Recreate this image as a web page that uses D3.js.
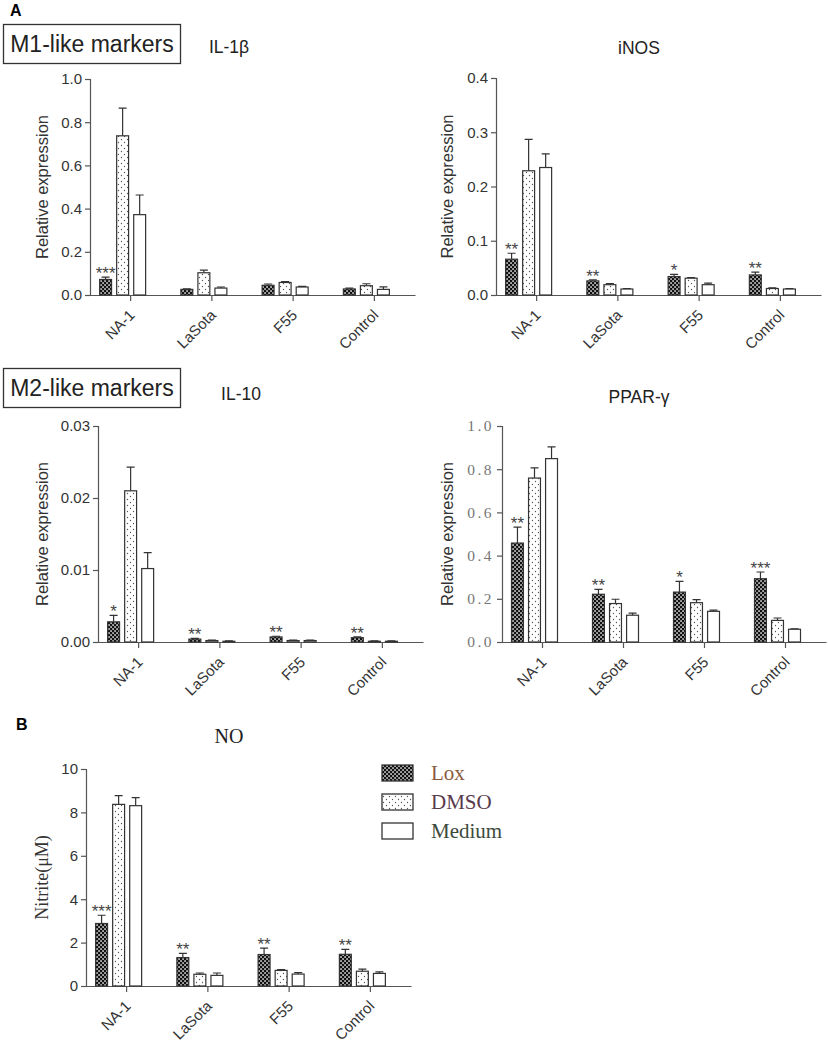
<!DOCTYPE html>
<html>
<head>
<meta charset="utf-8">
<script src="https://cdn.jsdelivr.net/npm/d3@7"></script>
<style>
  body { margin: 0; background: #fff; }
  svg { display: block; }
</style>
</head>
<body>
<script>
const groups = ["NA-1", "LaSota", "F55", "Control"];
const series = ["Lox", "DMSO", "Medium"];

// mean and SEM per group, in series order Lox, DMSO, Medium
const il1bMean = [[0.072, 0.737, 0.372], [0.026, 0.103, 0.032], [0.045, 0.058, 0.037], [0.028, 0.043, 0.026]];
const il1bSem  = [[0.011, 0.128, 0.091], [0.003, 0.012, 0.005], [0.006, 0.004, 0.003], [0.004, 0.009, 0.012]];
const il1bStars = ["***", "", "", ""];

const inosMean = [[0.066, 0.229, 0.235], [0.026, 0.019, 0.011], [0.034, 0.031, 0.019], [0.037, 0.012, 0.011]];
const inosSem  = [[0.011, 0.058, 0.025], [0.002, 0.002, 0.001], [0.004, 0.001, 0.003], [0.005, 0.001, 0.001]];
const inosStars = ["**", "**", "*", "**"];

const il10Mean = [[0.0028, 0.0210, 0.0102], [0.0004, 0.0002, 0.0001], [0.0007, 0.0002, 0.0002], [0.0006, 0.0001, 0.0001]];
const il10Sem  = [[0.0009, 0.0033, 0.0022], [0.0001, 0.00005, 0.00005], [0.0001, 0.00005, 0.00005], [0.0001, 0.00005, 0.00005]];
const il10Stars = ["*", "**", "**", "**"];

const pparMean = [[0.458, 0.759, 0.849], [0.221, 0.178, 0.124], [0.231, 0.182, 0.142], [0.293, 0.100, 0.059]];
const pparSem  = [[0.074, 0.047, 0.054], [0.023, 0.020, 0.010], [0.050, 0.014, 0.006], [0.031, 0.011, 0.002]];
const pparStars = ["**", "**", "*", "***"];

const noMean = [[2.88, 8.37, 8.31], [1.31, 0.54, 0.49], [1.45, 0.72, 0.55], [1.46, 0.68, 0.58]];
const noSem  = [[0.38, 0.40, 0.37], [0.19, 0.06, 0.11], [0.30, 0.04, 0.07], [0.23, 0.10, 0.07]];
const noStars = ["***", "**", "**", "**"];

const width = 828, height = 1047;
const sans = "Arial, 'Liberation Sans', sans-serif";
const serif = "'Times New Roman', 'Liberation Serif', serif";

const svg = d3.select("body").append("svg")
    .attr("width", width)
    .attr("height", height)
    .attr("font-family", sans);

const defs = svg.append("defs");

// Lox: dense black checker
const chk = defs.append("pattern")
    .attr("id", "lox")
    .attr("patternUnits", "userSpaceOnUse")
    .attr("width", 4).attr("height", 4);
chk.append("rect").attr("width", 4).attr("height", 4).attr("fill", "#111");
chk.append("rect").attr("x", 0.3).attr("y", 0.3).attr("width", 1.5).attr("height", 1.5).attr("fill", "#fff");
chk.append("rect").attr("x", 2.3).attr("y", 2.3).attr("width", 1.5).attr("height", 1.5).attr("fill", "#fff");

// DMSO: sparse dots
const dot = defs.append("pattern")
    .attr("id", "dmso")
    .attr("patternUnits", "userSpaceOnUse")
    .attr("width", 6).attr("height", 6);
dot.append("rect").attr("width", 6).attr("height", 6).attr("fill", "#fff");
dot.append("circle").attr("cx", 1.5).attr("cy", 1.5).attr("r", 0.65).attr("fill", "#555");
dot.append("circle").attr("cx", 4.5).attr("cy", 4.5).attr("r", 0.65).attr("fill", "#555");

const fills = d3.scaleOrdinal()
    .domain(series)
    .range(["url(#lox)", "url(#dmso)", "#fff"]);

function panel(p) {
  const g = svg.append("g");

  const x = d3.scaleBand()
      .domain(groups)
      .range([p.x0, p.x1]);

  const x1 = d3.scaleBand()
      .domain(series)
      .range([-31, 15])
      .paddingInner(0.3);

  const y = d3.scaleLinear()
      .domain([0, p.max])
      .range([p.yBot, p.yTop]);

  const rows = groups.flatMap((grp, i) => series.map((s, j) => ({
    grp, s, v: p.mean[i][j], e: p.sem[i][j]
  })));

  // y axis
  const ya = g.append("g")
      .attr("transform", `translate(${p.x0},0)`)
      .call(d3.axisLeft(y).tickValues(p.ticks).tickFormat(d3.format(p.fmt)).tickSize(5).tickPadding(3));
  ya.select(".domain").attr("stroke", "#555").attr("stroke-width", 1.2);
  ya.selectAll(".tick line").attr("stroke", "#555").attr("stroke-width", 1.2);
  ya.selectAll(".tick text")
      .attr("fill", p.tickColor || "#333")
      .attr("font-size", p.tickSize || 15)
      .attr("font-family", p.tickFont || sans)
      .attr("letter-spacing", p.tickSpacing || 0);

  // x axis
  const xa = g.append("g")
      .attr("transform", `translate(0,${p.yBot})`)
      .call(d3.axisBottom(x).tickSize(6).tickSizeOuter(0).tickFormat(""));
  xa.select(".domain").attr("stroke", "#555").attr("stroke-width", 1.2);
  xa.selectAll(".tick line").attr("stroke", "#555").attr("stroke-width", 1.2);

  g.selectAll(".xlab")
    .data(groups)
    .join("text")
      .attr("class", "xlab")
      .attr("transform", d => `translate(${x(d) + x.bandwidth() / 2 + 5},${p.yBot + 21}) rotate(-45)`)
      .attr("text-anchor", "end")
      .attr("font-size", 15)
      .attr("fill", "#333")
      .text(d => d);

  const cx = d => x(d.grp) + x.bandwidth() / 2 + x1(d.s);

  // error bars (upper only)
  g.selectAll(".err")
    .data(rows)
    .join("path")
      .attr("class", "err")
      .attr("fill", "none")
      .attr("stroke", "#333")
      .attr("stroke-width", 1.2)
      .attr("d", d => {
        const m = cx(d) + x1.bandwidth() / 2;
        const t = y(d.v + d.e);
        return `M${m},${y(d.v)}V${t}M${m - 4},${t}H${m + 4}`;
      });

  g.selectAll(".bar")
    .data(rows)
    .join("rect")
      .attr("class", "bar")
      .attr("x", cx)
      .attr("width", x1.bandwidth())
      .attr("y", d => y(d.v))
      .attr("height", d => y(0) - y(d.v))
      .attr("fill", d => fills(d.s))
      .attr("stroke", "#333")
      .attr("stroke-width", 1.2);

  g.selectAll(".star")
    .data(groups)
    .join("text")
      .attr("class", "star")
      .attr("x", d => x(d) + x.bandwidth() / 2 + x1("Lox") + x1.bandwidth() / 2)
      .attr("y", (d, i) => y(p.mean[i][0] + p.sem[i][0]) + 2)
      .attr("text-anchor", "middle")
      .attr("font-size", 17)
      .attr("fill", "#444")
      .text((d, i) => p.stars[i]);

  g.append("text")
      .attr("transform", `translate(${p.labelX},${(p.yTop + p.yBot) / 2}) rotate(-90)`)
      .attr("text-anchor", "middle")
      .attr("font-size", p.labelSize || 16.5)
      .attr("font-family", p.labelFont || sans)
      .attr("fill", "#333")
      .text(p.label);

  g.append("text")
      .attr("x", p.titleX)
      .attr("y", p.titleY)
      .attr("text-anchor", "middle")
      .attr("font-size", p.titleSize || 17.5)
      .attr("font-family", p.titleFont || sans)
      .attr("fill", "#222")
      .text(p.title);
}

panel({title: "IL-1β", titleX: 229, titleY: 53, label: "Relative expression", labelX: 48,
  x0: 90, x1: 415, yTop: 79, yBot: 295, max: 1.0, ticks: [0, 0.2, 0.4, 0.6, 0.8, 1.0], fmt: ".1f",
  mean: il1bMean, sem: il1bSem, stars: il1bStars});

panel({title: "iNOS", titleX: 639, titleY: 54, label: "Relative expression", labelX: 453,
  x0: 496, x1: 821, yTop: 78, yBot: 295, max: 0.4, ticks: [0, 0.1, 0.2, 0.3, 0.4], fmt: ".1f",
  mean: inosMean, sem: inosSem, stars: inosStars});

panel({title: "IL-10", titleX: 241, titleY: 400, label: "Relative expression", labelX: 48,
  x0: 98, x1: 423, yTop: 426, yBot: 642, max: 0.03, ticks: [0, 0.01, 0.02, 0.03], fmt: ".2f",
  mean: il10Mean, sem: il10Sem, stars: il10Stars});

panel({title: "PPAR-γ", titleX: 639, titleY: 403, label: "Relative expression", labelX: 453,
  x0: 502, x1: 826, yTop: 426, yBot: 642, max: 1.0, ticks: [0, 0.2, 0.4, 0.6, 0.8, 1.0], fmt: ".1f",
  tickFont: serif, tickColor: "#777", tickSpacing: 2.5, tickSize: 15.5,
  mean: pparMean, sem: pparSem, stars: pparStars});

panel({title: "NO", titleX: 229, titleY: 743, titleFont: serif, titleSize: 20,
  label: "Nitrite(μM)", labelX: 48, labelFont: serif, labelSize: 18,
  x0: 86, x1: 411, yTop: 769, yBot: 986, max: 10, ticks: [0, 2, 4, 6, 8, 10], fmt: "d",
  mean: noMean, sem: noSem, stars: noStars});

// panel letters
svg.append("text").attr("x", 10).attr("y", 16).attr("font-size", 16).attr("font-weight", "bold").text("A");
svg.append("text").attr("x", 16).attr("y", 730).attr("font-size", 16).attr("font-weight", "bold").text("B");

// marker boxes
[["M1-like markers", 24], ["M2-like markers", 368]].forEach(([t, y0]) => {
  svg.append("rect")
      .attr("x", 3.5).attr("y", y0 + 0.5)
      .attr("width", 177).attr("height", 39)
      .attr("fill", "none").attr("stroke", "#333").attr("stroke-width", 1.3);
  svg.append("text")
      .attr("x", 92).attr("y", y0 + 28)
      .attr("text-anchor", "middle")
      .attr("font-size", 23)
      .attr("fill", "#222")
      .text(t);
});

// legend
const legendColors = ["#8a5a3c", "#5a3a4c", "#3c4a3c"];
const lg = svg.append("g").attr("transform", "translate(382,765)");
lg.selectAll("rect")
  .data(series)
  .join("rect")
    .attr("x", 0)
    .attr("y", (d, i) => i * 29)
    .attr("width", 31)
    .attr("height", 16)
    .attr("fill", d => fills(d))
    .attr("stroke", "#333")
    .attr("stroke-width", 1.3);
lg.selectAll("text")
  .data(series)
  .join("text")
    .attr("x", 49)
    .attr("y", (d, i) => i * 29 + 15)
    .attr("font-family", serif)
    .attr("font-size", 21)
    .attr("fill", (d, i) => legendColors[i])
    .text(d => d);
</script>
</body>
</html>
